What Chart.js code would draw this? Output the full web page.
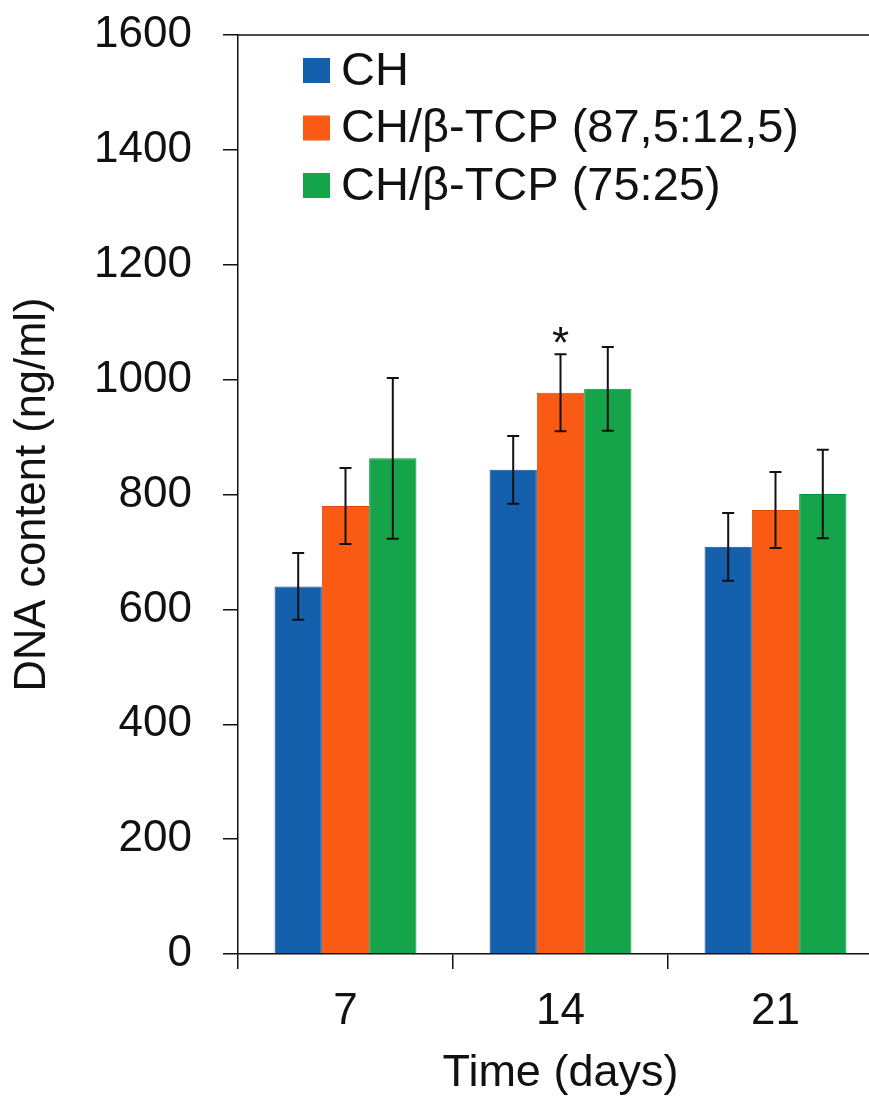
<!DOCTYPE html>
<html>
<head>
<meta charset="utf-8">
<script src="https://cdn.jsdelivr.net/npm/chart.js@4"></script>
<style>
  html, body { margin: 0; padding: 0; background: #fff; overflow: hidden; }
  #wrap { width: 890px; height: 1099px; }
</style>
</head>
<body>
<div id="wrap"><canvas id="dnaChart" width="890" height="1099"></canvas></div>
<script>
// DNA content per time point (ng/ml), mean and SD
const days = ['7', '14', '21'];
const seriesNames = ['CH', 'CH/β-TCP (87,5:12,5)', 'CH/β-TCP (75:25)'];
const chValues = [640, 843, 709];
const tcp875Values = [780, 977, 773];
const tcp75Values = [863, 984, 801];
const chErrors = [58, 59, 59];
const tcp875Errors = [66, 67, 66];
const tcp75Errors = [140, 73, 77];
const chMarks = ['', '', ''];
const tcp875Marks = ['', '*', ''];
const tcp75Marks = ['', '', ''];
const yTicks = [0, 200, 400, 600, 800, 1000, 1200, 1400, 1600];

const FONT = "'Liberation Sans', Arial, sans-serif";

// error bars, significance stars, plot frame and the inset legend
const extras = {
  id: 'extras',
  afterDatasetsDraw(chart) {
    const { ctx, chartArea, scales: { y } } = chart;
    ctx.save();
    ctx.strokeStyle = '#111';
    ctx.fillStyle = '#111';
    ctx.lineWidth = 2;
    chart.data.datasets.forEach((ds, i) => {
      chart.getDatasetMeta(i).data.forEach((bar, j) => {
        const v = ds.data[j], e = ds.errors[j];
        const yt = y.getPixelForValue(v + e), yb = y.getPixelForValue(v - e);
        const x = bar.x, cap = 6;
        ctx.beginPath();
        ctx.moveTo(x, yt); ctx.lineTo(x, yb);
        ctx.moveTo(x - cap, yt); ctx.lineTo(x + cap, yt);
        ctx.moveTo(x - cap, yb); ctx.lineTo(x + cap, yb);
        ctx.stroke();
        if (ds.marks[j]) {
          ctx.font = '44px ' + FONT;
          ctx.textAlign = 'center';
          ctx.textBaseline = 'alphabetic';
          ctx.fillText(ds.marks[j], x, yt + 4);
        }
      });
    });

    // top and right frame
    ctx.lineWidth = 1.5;
    ctx.beginPath();
    ctx.moveTo(chartArea.left, chartArea.top);
    ctx.lineTo(chartArea.right, chartArea.top);
    ctx.lineTo(chartArea.right, chartArea.bottom);
    ctx.stroke();

    // legend
    ctx.font = '47px ' + FONT;
    ctx.textAlign = 'left';
    ctx.textBaseline = 'middle';
    chart.data.datasets.forEach((ds, i) => {
      const bx = chartArea.left + 65, cy = chartArea.top + 35 + i * 57.5;
      ctx.fillStyle = ds.backgroundColor;
      ctx.fillRect(bx, cy - 12, 27, 25);
      ctx.fillStyle = '#111';
      ctx.fillText(ds.label, bx + 38, cy + 2);
    });
    ctx.restore();
  }
};

new Chart(document.getElementById('dnaChart'), {
  type: 'bar',
  data: {
    labels: days,
    datasets: [
      { label: seriesNames[0], data: chValues, errors: chErrors, marks: chMarks,
        backgroundColor: '#1560AC', borderColor: '#0E4E90', borderWidth: 1 },
      { label: seriesNames[1], data: tcp875Values, errors: tcp875Errors, marks: tcp875Marks,
        backgroundColor: '#FA5B14', borderColor: '#D94A0C', borderWidth: 1 },
      { label: seriesNames[2], data: tcp75Values, errors: tcp75Errors, marks: tcp75Marks,
        backgroundColor: '#15A44A', borderColor: '#0E8A3C', borderWidth: 1 }
    ]
  },
  options: {
    responsive: false,
    animation: false,
    layout: { padding: { top: 35, right: 7, left: 0, bottom: 0 } },
    datasets: { bar: { categoryPercentage: 0.66, barPercentage: 1.0 } },
    plugins: { legend: { display: false }, tooltip: { enabled: false } },
    scales: {
      x: {
        grid: { display: true, offset: true, drawOnChartArea: false, drawTicks: true, tickLength: 15, color: '#111', lineWidth: 1.5 },
        border: { display: true, color: '#111', width: 1.5 },
        ticks: { color: '#111', font: { family: FONT, size: 44 }, padding: 16 },
        title: { display: true, text: 'Time (days)', color: '#111', font: { family: FONT, size: 45, lineHeight: 1 }, padding: { top: 0, bottom: 3 } },
        afterFit: s => { s.height = 145; }
      },
      y: {
        min: 0,
        max: 1600,
        afterBuildTicks: s => { s.ticks = yTicks.map(v => ({ value: v })); },
        grid: { display: true, drawOnChartArea: false, drawTicks: true, tickLength: 15, color: '#111', lineWidth: 1.5 },
        border: { display: true, color: '#111', width: 1.5 },
        ticks: { color: '#111', font: { family: FONT, size: 44 }, padding: 31, callback: v => String(v) },
        title: { display: true, text: 'DNA content (ng/ml)', color: '#111', font: { family: FONT, size: 43.5, lineHeight: 1 }, padding: { top: 11, bottom: 0 } },
        afterFit: s => { s.width = 238; s.paddingTop = 0; s.paddingBottom = 0; }
      }
    }
  },
  plugins: [extras]
});
</script>
</body>
</html>
